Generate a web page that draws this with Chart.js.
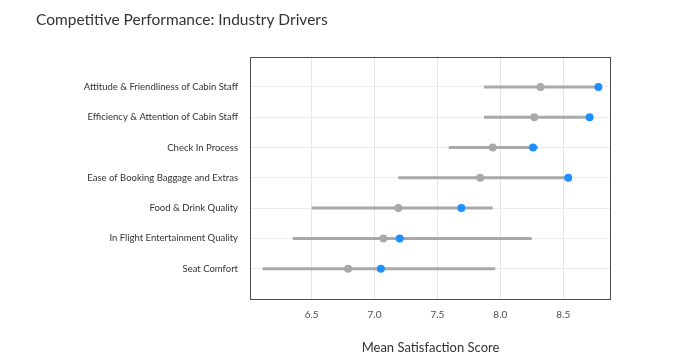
<!DOCTYPE html>
<html>
<head>
<meta charset="utf-8">
<script src="https://cdn.jsdelivr.net/npm/chart.js@4"></script>
<style>
  html, body { margin: 0; padding: 0; background: #fff; }
  #wrap { width: 679px; height: 356px; position: relative; }
</style>
</head>
<body>
<div id="wrap"><canvas id="c" width="679" height="356"></canvas></div>
<script>
const categories = [
  "Attitude & Friendliness of Cabin Staff",
  "Efficiency & Attention of Cabin Staff",
  "Check In Process",
  "Ease of Booking Baggage and Extras",
  "Food & Drink Quality",
  "In Flight Entertainment Quality",
  "Seat Comfort"
];
const rangeMin = [7.87, 7.87, 7.59, 7.19, 6.50, 6.35, 6.11];
const rangeMax = [8.78, 8.71, 8.30, 8.54, 7.94, 8.25, 7.96];
const industryAvg = [8.32, 8.27, 7.94, 7.84, 7.19, 7.07, 6.79];
const brandScore = [8.78, 8.71, 8.26, 8.54, 7.69, 7.20, 7.05];
const xTicks = [6.5, 7.0, 7.5, 8.0, 8.5];

const FONT = "Lato";
const GREY = "#a9a9a9";
const BLUE = "#1e8fff";

const datasets = [];
datasets.push({
  label: "Brand",
  data: categories.map((c, i) => ({ x: brandScore[i], y: i + 1 })),
  showLine: false,
  pointRadius: 4,
  pointHoverRadius: 4,
  pointBackgroundColor: BLUE,
  pointBorderColor: BLUE,
  pointBorderWidth: 0,
  order: 0
});
datasets.push({
  label: "Industry",
  data: categories.map((c, i) => ({ x: industryAvg[i], y: i + 1 })),
  showLine: false,
  pointRadius: 4,
  pointHoverRadius: 4,
  pointBackgroundColor: GREY,
  pointBorderColor: GREY,
  pointBorderWidth: 0,
  order: 1
});
categories.forEach((c, i) => {
  datasets.push({
    label: "Range " + c,
    data: [{ x: rangeMin[i], y: i + 1 }, { x: rangeMax[i], y: i + 1 }],
    showLine: true,
    borderColor: GREY,
    borderWidth: 3,
    borderCapStyle: "butt",
    pointRadius: 0,
    order: 2
  });
});

const borderPlugin = {
  id: "plotBorder",
  afterDraw(chart) {
    const a = chart.chartArea, ctx = chart.ctx;
    ctx.save();
    ctx.strokeStyle = "#4d4d4d";
    ctx.lineWidth = 1;
    ctx.strokeRect(Math.round(a.left) + 0.5, Math.round(a.top) + 0.5,
      Math.round(a.right - a.left) - 1, Math.round(a.bottom - a.top));
    ctx.restore();
  }
};

new Chart(document.getElementById("c"), {
  type: "scatter",
  data: { datasets },
  plugins: [borderPlugin],
  options: {
    responsive: false,
    animation: false,
    layout: { padding: { left: 36, right: 68, top: 0, bottom: 0 } },
    plugins: {
      legend: { display: false },
      tooltip: { enabled: false },
      title: {
        display: true,
        text: "Competitive Performance: Industry Drivers",
        align: "start",
        color: "#333333",
        font: { family: FONT, size: 15.5, weight: "normal" },
        padding: { top: 11, bottom: 27 }
      }
    },
    scales: {
      x: {
        type: "linear",
        min: 6.01,
        max: 8.88,
        afterBuildTicks(scale) { scale.ticks = xTicks.map(v => ({ value: v })); },
        afterFit(scale) { scale.height = 57; },
        ticks: {
          callback: v => Number(v).toFixed(1),
          color: "#4d4d4d",
          font: { family: FONT, size: 10 },
          padding: 10,
          maxRotation: 0
        },
        grid: { color: "#e6e6e6", drawTicks: false },
        border: { display: false },
        title: {
          display: true,
          text: "Mean Satisfaction Score",
          color: "#333333",
          font: { family: FONT, size: 13 },
          padding: { top: 8, bottom: 0 }
        }
      },
      y: {
        type: "linear",
        reverse: true,
        min: 0,
        max: 8,
        afterBuildTicks(scale) { scale.ticks = categories.map((c, i) => ({ value: i + 1 })); },
        afterFit(scale) { scale.width = 214; },
        ticks: {
          callback: v => categories[v - 1] || "",
          color: "#333333",
          font: { family: FONT, size: 9.5 },
          padding: 12
        },
        grid: { color: "#ececec", drawTicks: false },
        border: { display: false }
      }
    }
  }
});
</script>
</body>
</html>
